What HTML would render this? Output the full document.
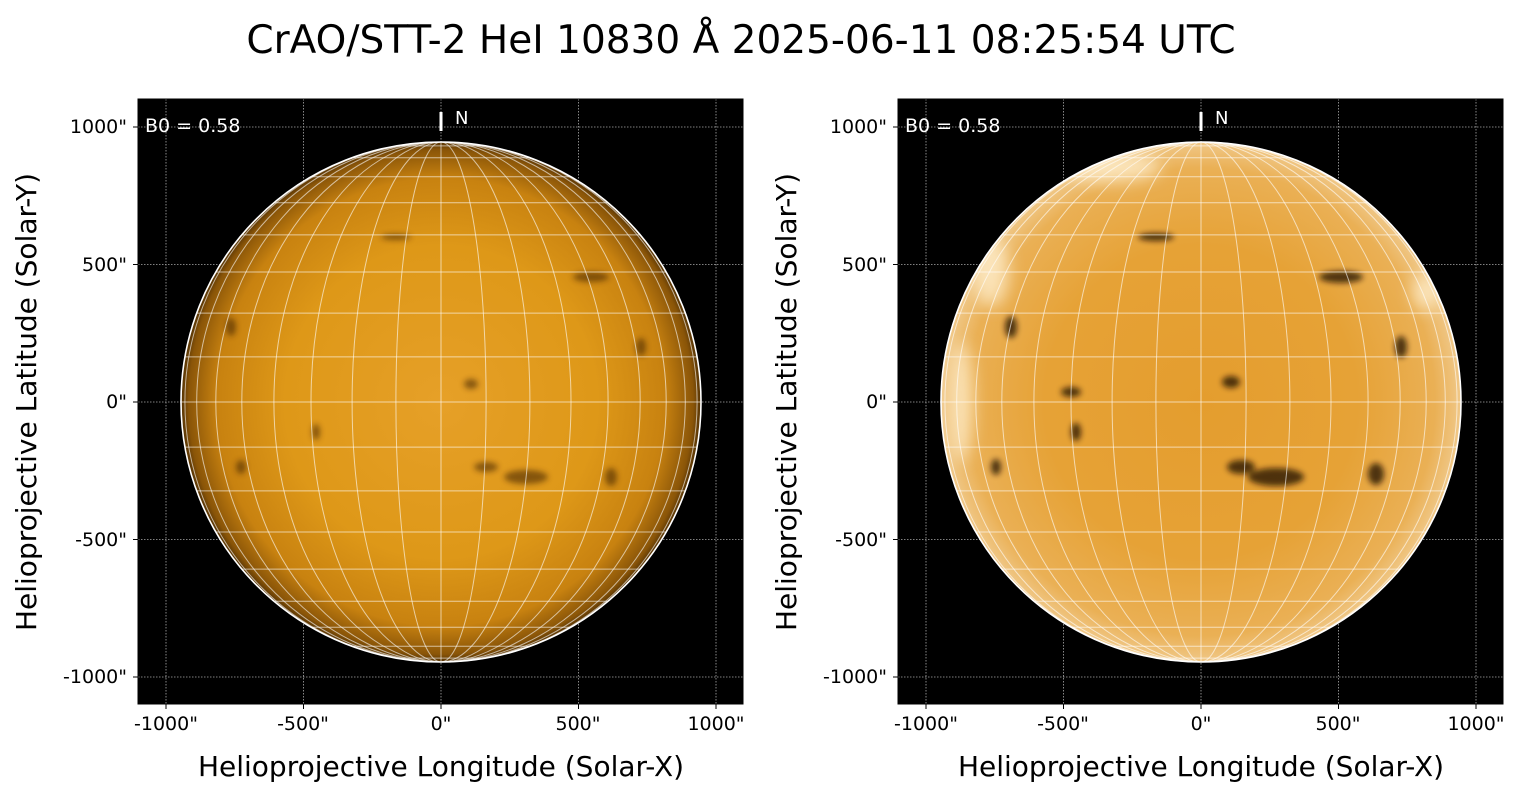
<!DOCTYPE html>
<html><head><meta charset="utf-8"><style>
body{margin:0;background:#fff;width:1520px;height:795px;overflow:hidden;font-family:"Liberation Sans","DejaVu Sans",sans-serif}
</style></head><body>
<svg width="1520" height="795" viewBox="0 0 1520 795" xmlns="http://www.w3.org/2000/svg" font-family="DejaVu Sans, Liberation Sans, sans-serif">
<defs>
<radialGradient id="gl" cx="0.5" cy="0.5" r="0.5">
<stop offset="0" stop-color="#e6a028"/><stop offset="0.6" stop-color="#de9818"/><stop offset="0.86" stop-color="#c88210"/><stop offset="0.97" stop-color="#8a5508"/><stop offset="1" stop-color="#553304"/>
</radialGradient>
<radialGradient id="gr" cx="0.5" cy="0.5" r="0.5">
<stop offset="0" stop-color="#e49d2e"/><stop offset="0.6" stop-color="#e6a236"/><stop offset="0.9" stop-color="#eab055"/><stop offset="1" stop-color="#f0c888"/>
</radialGradient>
<filter id="bl"><feGaussianBlur stdDeviation="3"/></filter>
<filter id="bl2"><feGaussianBlur stdDeviation="8"/></filter>
<g id="grid" fill="none" stroke="#fff" stroke-opacity="0.6" stroke-width="1">
<path d="M0,-260V260"/>
<path d="M0,-260A45.1,260 0 0 1 0,260M0,-260A45.1,260 0 0 0 0,260"/>
<path d="M0,-260A88.9,260 0 0 1 0,260M0,-260A88.9,260 0 0 0 0,260"/>
<path d="M0,-260A130,260 0 0 1 0,260M0,-260A130,260 0 0 0 0,260"/>
<path d="M0,-260A167.1,260 0 0 1 0,260M0,-260A167.1,260 0 0 0 0,260"/>
<path d="M0,-260A199.2,260 0 0 1 0,260M0,-260A199.2,260 0 0 0 0,260"/>
<path d="M0,-260A225.2,260 0 0 1 0,260M0,-260A225.2,260 0 0 0 0,260"/>
<path d="M0,-260A244.3,260 0 0 1 0,260M0,-260A244.3,260 0 0 0 0,260"/>
<path d="M0,-260A256.1,260 0 0 1 0,260M0,-260A256.1,260 0 0 0 0,260"/>
<path d="M-260,0H260M-256.1,-45.1H256.1M-256.1,45.1H256.1M-244.3,-88.9H244.3M-244.3,88.9H244.3M-225.2,-130H225.2M-225.2,130H225.2M-199.2,-167.1H199.2M-199.2,167.1H199.2M-167.1,-199.2H167.1M-167.1,199.2H167.1M-130,-225.2H130M-130,225.2H130M-88.9,-244.3H88.9M-88.9,244.3H88.9M-45.1,-256.1H45.1M-45.1,256.1H45.1"/>
<circle r="260" stroke-opacity="1" stroke-width="1.6"/>
</g>
<g id="ax" stroke="#aaa" stroke-width="0.8" stroke-dasharray="1.5,1.5">
<path d="M-275,-303V303M-137.5,-303V303M0,-303V303M137.5,-303V303M275,-303V303M-303,-275H303M-303,-137.5H303M-303,0H303M-303,137.5H303M-303,275H303"/>
</g>
</defs>
<text x="741" y="53" font-size="39" text-anchor="middle" fill="#000">CrAO/STT-2 HeI 10830 Å 2025-06-11 08:25:54 UTC</text>

<!-- LEFT -->
<rect x="138" y="99" width="605" height="605" fill="#000"/>
<g transform="translate(441,402)">
<use href="#ax"/>
<circle r="260" fill="url(#gl)"/>
<g fill="#3a1e00" opacity="0.55" filter="url(#bl)">
<ellipse cx="85" cy="75" rx="22" ry="7"/><ellipse cx="45" cy="65" rx="12" ry="5"/>
<ellipse cx="170" cy="75" rx="6" ry="9"/><ellipse cx="30" cy="-18" rx="7" ry="5"/>
<ellipse cx="150" cy="-125" rx="18" ry="5"/><ellipse cx="-200" cy="65" rx="5" ry="7"/>
<ellipse cx="-125" cy="30" rx="4" ry="8"/><ellipse cx="200" cy="-55" rx="5" ry="9"/>
<ellipse cx="-45" cy="-165" rx="15" ry="3"/><ellipse cx="-210" cy="-75" rx="5" ry="9"/>
</g>
<use href="#grid"/>
</g>
<rect x="138" y="99" width="605" height="605" fill="none" stroke="#000" stroke-width="1"/>
<text x="145" y="132" font-size="19" fill="#fff">B0 = 0.58</text>
<line x1="441" y1="112" x2="441" y2="131" stroke="#fff" stroke-width="3"/>
<text x="455" y="124" font-size="18" fill="#fff">N</text>

<!-- RIGHT -->
<rect x="898" y="99" width="605" height="605" fill="#000"/>
<g transform="translate(1201,402)">
<use href="#ax"/>
<clipPath id="dc"><circle r="260"/></clipPath>
<circle r="260" fill="url(#gr)"/>
<g clip-path="url(#dc)">
<g fill="#fff0d0" opacity="0.75" filter="url(#bl2)">
<ellipse cx="-90" cy="-235" rx="50" ry="15"/><ellipse cx="-210" cy="-130" rx="18" ry="35"/>
<ellipse cx="-240" cy="0" rx="12" ry="60"/><ellipse cx="225" cy="-110" rx="14" ry="18"/>
</g>
<g fill="#1a0c00" opacity="0.75" filter="url(#bl)">
<ellipse cx="75" cy="75" rx="28" ry="9"/><ellipse cx="40" cy="65" rx="14" ry="7"/>
<ellipse cx="175" cy="72" rx="8" ry="11"/><ellipse cx="30" cy="-20" rx="9" ry="6"/>
<ellipse cx="140" cy="-125" rx="22" ry="6"/><ellipse cx="-205" cy="65" rx="5" ry="8"/>
<ellipse cx="-125" cy="30" rx="5" ry="9"/><ellipse cx="200" cy="-55" rx="6" ry="11"/>
<ellipse cx="-45" cy="-165" rx="18" ry="4"/><ellipse cx="-190" cy="-75" rx="6" ry="11"/>
<ellipse cx="-130" cy="-10" rx="10" ry="5"/>
</g>
</g>
<use href="#grid"/>
</g>
<rect x="898" y="99" width="605" height="605" fill="none" stroke="#000" stroke-width="1"/>
<text x="905" y="132" font-size="19" fill="#fff">B0 = 0.58</text>
<line x1="1201" y1="112" x2="1201" y2="131" stroke="#fff" stroke-width="3"/>
<text x="1215" y="124" font-size="18" fill="#fff">N</text>

<!-- ticks & labels -->
<g font-size="19" fill="#000" stroke="none">
<g text-anchor="end">
<text x="127" y="133">1000"</text><text x="127" y="271">500"</text><text x="127" y="408">0"</text><text x="127" y="546">-500"</text><text x="127" y="683">-1000"</text>
<text x="887" y="133">1000"</text><text x="887" y="271">500"</text><text x="887" y="408">0"</text><text x="887" y="546">-500"</text><text x="887" y="683">-1000"</text>
</g>
<g text-anchor="middle">
<text x="166" y="730">-1000"</text><text x="303" y="730">-500"</text><text x="441" y="730">0"</text><text x="578" y="730">500"</text><text x="716" y="730">1000"</text>
<text x="926" y="730">-1000"</text><text x="1063" y="730">-500"</text><text x="1201" y="730">0"</text><text x="1338" y="730">500"</text><text x="1476" y="730">1000"</text>
</g>
</g>
<g stroke="#000" stroke-width="1">
<path d="M133,127H138M133,264.5H138M133,402H138M133,539.5H138M133,677H138M893,127H898M893,264.5H898M893,402H898M893,539.5H898M893,677H898"/>
<path d="M166,704V709M303.5,704V709M441,704V709M578.5,704V709M716,704V709M926,704V709M1063.5,704V709M1201,704V709M1338.5,704V709M1476,704V709"/>
</g>
<g font-size="28" fill="#000" text-anchor="middle">
<text x="441" y="776">Helioprojective Longitude (Solar-X)</text>
<text x="1201" y="776">Helioprojective Longitude (Solar-X)</text>
<text transform="translate(36,402) rotate(-90)">Helioprojective Latitude (Solar-Y)</text>
<text transform="translate(796,402) rotate(-90)">Helioprojective Latitude (Solar-Y)</text>
</g>
</svg>
</body></html>
